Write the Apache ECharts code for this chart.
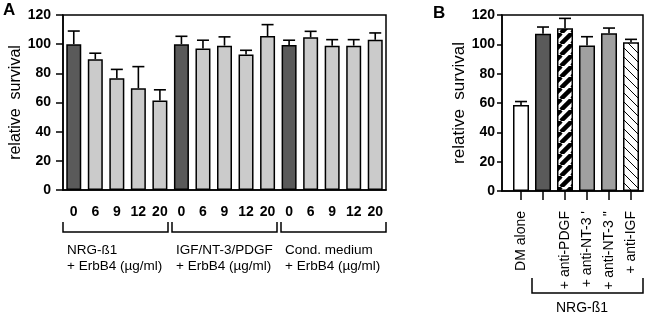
<!DOCTYPE html>
<html>
<head>
<meta charset="utf-8">
<script src="https://cdn.jsdelivr.net/npm/echarts@6/dist/echarts.min.js"></script>
<style>
  html, body { margin: 0; padding: 0; background: #fff; }
  #main { width: 647px; height: 315px; }
</style>
</head>
<body>
<div id="main"></div>
<script>
// panel A
var doseLabels = ['0', '6', '9', '12', '20', '0', '6', '9', '12', '20', '0', '6', '9', '12', '20'];
var survivalA = [100, 89.7, 76.7, 69.8, 61.4, 100, 97, 99, 92.9, 105.6, 99.5, 104.7, 99, 99, 103];
var errorA = [9, 4.1, 6, 14.8, 7.3, 5.4, 5.7, 6, 2.9, 7.8, 3.2, 4.1, 4.1, 4.1, 4.7];
var groupA = ['NRG-ß1', 'IGF/NT-3/PDGF', 'Cond. medium'];

// panel B
var labelsB = ['DM alone', '', '+ anti-PDGF', "+ anti-NT-3 '", "+ anti-NT-3 ''", '+ anti-IGF'];
var survivalB = [58.6, 107.2, 110.9, 99.2, 107.5, 101.5];
var errorB = [2.4, 4.6, 6.8, 6, 3.6, 1.9];
var posB = [0, 1, 2, 3, 4, 5];

var dark = '#5a5a5a', light = '#cbcbcb', mid = '#a0a0a0';
var font = 'Liberation Sans';

// stripe fills for panel B
function hatch(size, width, up) {
    var c = document.createElement('canvas');
    c.width = size; c.height = size;
    var ctx = c.getContext('2d');
    ctx.fillStyle = '#fff';
    ctx.fillRect(0, 0, size, size);
    ctx.strokeStyle = '#000';
    ctx.lineWidth = width;
    for (var k = -1; k <= 1; k++) {
        ctx.beginPath();
        if (up) {
            ctx.moveTo(k * size, size);
            ctx.lineTo(k * size + size, 0);
        } else {
            ctx.moveTo(k * size, 0);
            ctx.lineTo(k * size + size, size);
        }
        ctx.stroke();
    }
    return { image: c, repeat: 'repeat' };
}
var fillsB = ['#ffffff', dark, hatch(11, 4.5, true), mid, mid, hatch(9, 1, false)];

function errRender(params, api) {
    var x = api.value(0), y = api.value(1), e = api.value(2);
    var b = api.coord([x, y]);
    var t = api.coord([x, y + e]);
    var st = { stroke: '#000', lineWidth: 1.6 };
    return {
        type: 'group',
        children: [
            { type: 'line', shape: { x1: b[0], y1: b[1], x2: t[0], y2: t[1] }, style: st },
            { type: 'line', shape: { x1: t[0] - 6, y1: t[1], x2: t[0] + 6, y2: t[1] }, style: st }
        ]
    };
}

var myChart = echarts.init(document.getElementById('main'));

var barsA = survivalA.map(function (v, i) {
    return { value: v, itemStyle: { color: i % 5 === 0 ? dark : light } };
});
var errA = survivalA.map(function (v, i) { return [i, v, errorA[i]]; });
var barsB = survivalB.map(function (v, i) {
    return { value: [posB[i], v], itemStyle: { color: fillsB[i] } };
});
var errB = survivalB.map(function (v, i) { return [posB[i], v, errorB[i]]; });

var yAxisCommon = {
    type: 'value', min: 0, max: 120, interval: 20,
    splitLine: { show: false },
    axisLine: { show: true, onZero: false, lineStyle: { color: '#000', width: 1.5 } },
    axisTick: { show: true, length: 7, lineStyle: { color: '#000', width: 1.5 } },
    nameLocation: 'middle', nameRotate: 90
};

function txt(s, size, weight, extra) {
    var st = { text: s, fontSize: size, fontFamily: font, fontWeight: weight, fill: '#000' };
    for (var k in extra) st[k] = extra[k];
    return st;
}

var graphics = [
    { type: 'text', x: 3, y: 2, style: txt('A', 17, 'bold', {}) },
    { type: 'text', x: 433, y: 5, style: txt('B', 17, 'bold', {}) }
];
// brackets under the groups
var brA = [[63, 168], [172, 277], [281, 386]];
brA.forEach(function (b, i) {
    graphics.push({
        type: 'polyline',
        shape: { points: [[b[0], 222], [b[0], 232], [b[1], 232], [b[1], 222]] },
        style: { stroke: '#000', lineWidth: 1.5, fill: null }
    });
    graphics.push({
        type: 'text', x: b[0] + 4, y: 242,
        style: txt(groupA[i] + '\n+ ErbB4 (µg/ml)', 13.5, 'normal', { lineHeight: 16 })
    });
});
graphics.push({
    type: 'polyline',
    shape: { points: [[532, 278], [532, 293], [643, 293], [643, 278]] },
    style: { stroke: '#000', lineWidth: 1.5, fill: null }
});
graphics.push({
    type: 'text', x: 582, y: 308,
    style: txt('NRG-ß1', 14, 'normal', { align: 'center', verticalAlign: 'middle' })
});

option = {
    animation: false,
    grid: [
        { left: 63, top: 15, width: 323, height: 175, show: true, borderColor: '#000', borderWidth: 1.5 },
        { left: 502, top: 15, width: 141, height: 176, show: true, borderColor: '#000', borderWidth: 1.5 }
    ],
    xAxis: [
        {
            type: 'category', gridIndex: 0, data: doseLabels,
            axisLine: { lineStyle: { color: '#000', width: 1.5 } },
            axisTick: { alignWithLabel: true, length: 9, lineStyle: { color: '#000', width: 1.5 } },
            axisLabel: { color: '#000', fontFamily: font, fontWeight: 'bold', fontSize: 14, margin: 15 }
        },
        {
            type: 'value', gridIndex: 1, min: -0.864, max: 5.545,
            splitLine: { show: false },
            axisLine: { onZero: false, lineStyle: { color: '#000', width: 1.5 } },
            axisTick: { show: true, length: 9, customValues: posB, lineStyle: { color: '#000', width: 1.5 } },
            axisLabel: {
                customValues: posB, rotate: 90, margin: 20,
                color: '#000', fontFamily: font, fontSize: 14,
                formatter: function (v) { return labelsB[Math.round(v)]; }
            }
        }
    ],
    yAxis: [
        Object.assign({}, yAxisCommon, {
            gridIndex: 0, name: 'relative  survival', nameGap: 38,
            nameTextStyle: { color: '#000', fontFamily: font, fontSize: 16 },
            axisLabel: { color: '#000', fontFamily: font, fontWeight: 'bold', fontSize: 14, margin: 12 }
        }),
        Object.assign({}, yAxisCommon, {
            gridIndex: 1, name: 'relative  survival', nameGap: 27,
            nameTextStyle: { color: '#000', fontFamily: font, fontSize: 17 },
            axisTick: { show: true, length: 5, lineStyle: { color: '#000', width: 1.5 } },
            axisLabel: { color: '#000', fontFamily: font, fontWeight: 'bold', fontSize: 14, margin: 7 }
        })
    ],
    graphic: graphics,
    series: [
        {
            type: 'bar', xAxisIndex: 0, yAxisIndex: 0, data: barsA, barWidth: 15,
            itemStyle: { borderColor: '#000', borderWidth: 1.5 }
        },
        { type: 'custom', xAxisIndex: 0, yAxisIndex: 0, data: errA, renderItem: errRender, z: 3 },
        {
            type: 'bar', xAxisIndex: 1, yAxisIndex: 1, data: barsB, barWidth: 16,
            itemStyle: { borderColor: '#000', borderWidth: 1.5 }
        },
        { type: 'custom', xAxisIndex: 1, yAxisIndex: 1, data: errB, renderItem: errRender, z: 3 }
    ]
};
myChart.setOption(option, true);

window.onresize = function () {
    myChart.resize();
};
</script>
</body>
</html>
